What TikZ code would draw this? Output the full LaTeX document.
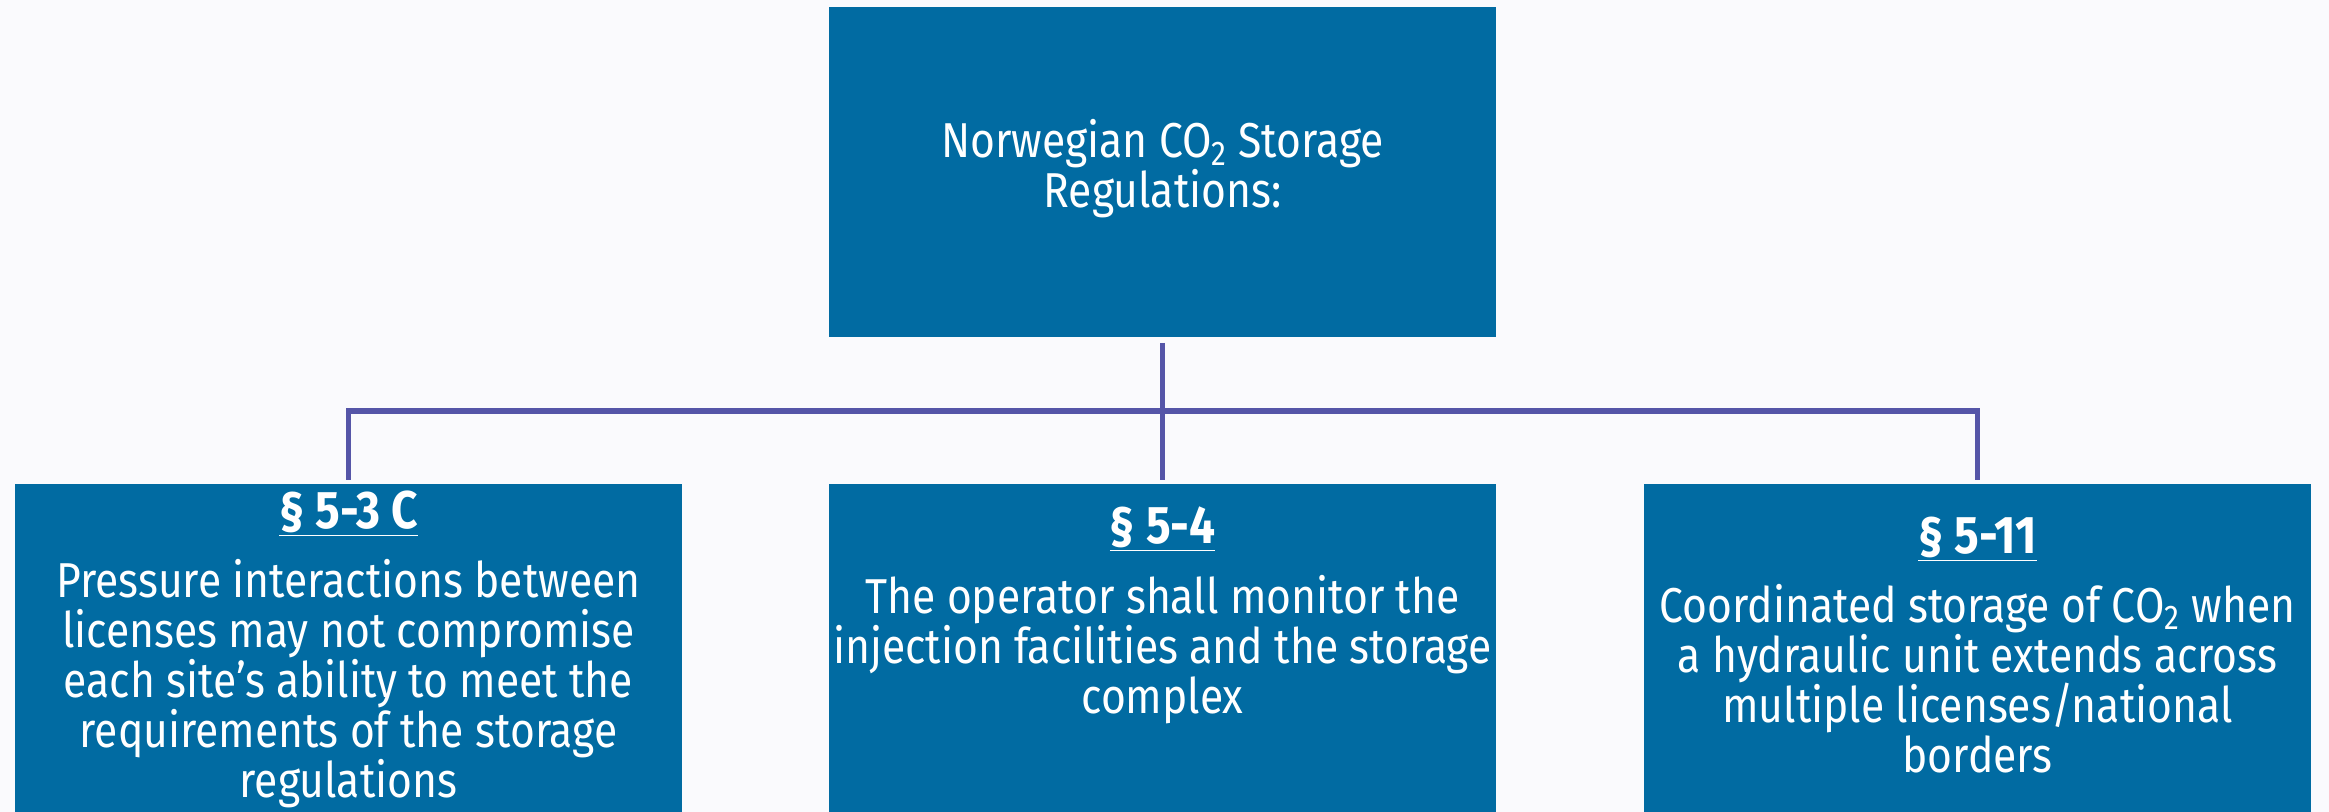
\documentclass[tikz,border=0pt]{standalone}
\usepackage{fontspec}
\setmainfont{Fira Sans}[FakeStretch=0.87]
\definecolor{bg}{RGB}{250,250,253}
\definecolor{boxblue}{RGB}{1,107,162}
\definecolor{linecol}{RGB}{85,85,168}
\begin{document}
\begin{tikzpicture}[x=0.5pt,y=-0.5pt,
  box/.style={fill=boxblue, inner sep=0pt, outer sep=0pt, minimum width=333.5pt, anchor=north west},
  conn/.style={draw=linecol, line width=2.8pt, line cap=butt},
  body/.style={text=white, align=center, font=\fontsize{24.5}{25}\selectfont, inner sep=0pt, anchor=base},
  head/.style={text=white, font=\fontsize{26.5}{25}\selectfont\bfseries, inner sep=0pt, anchor=base}]
\fill[bg] (0,0) rectangle (2329,812);
\useasboundingbox (0,0) rectangle (2329,812);
\node[box, minimum height=165pt] (top) at (829,7) {};
\node[box, minimum height=164pt] (left) at (15,484) {};
\node[box, minimum height=164pt] (mid) at (829,484) {};
\node[box, minimum height=164pt] (right) at (1644,484) {};
\coordinate (bus) at (1162.5,411);
\draw[conn, shorten <=3pt, shorten >=2pt] (top.south) -- (mid.north);
\draw[conn, shorten <=2pt, shorten >=2pt] (left.north) |- (bus) -| (right.north);
\node[body] (toptext) at (1162.5,208) {Norwegian CO\textsubscript{2} Storage\\Regulations:};
\node[head] (lefthead) at (348.5,528) {\underline{§ 5-3 C}};
\node[body] (lefttext) at (348.5,797) {Pressure interactions between\\licenses may not compromise\\each site’s ability to meet the\\requirements of the storage\\regulations};
\node[head] (midhead) at (1162.5,543) {\underline{§ 5-4}};
\node[body] (midtext) at (1162.5,713) {The operator shall monitor the\\injection facilities and the storage\\complex};
\node[head] (righthead) at (1977.5,553) {\underline{§ 5-11}};
\node[body] (righttext) at (1977.5,772) {Coordinated storage of CO\textsubscript{2} when\\a hydraulic unit extends across\\multiple licenses/national\\borders};
\end{tikzpicture}
\end{document}
